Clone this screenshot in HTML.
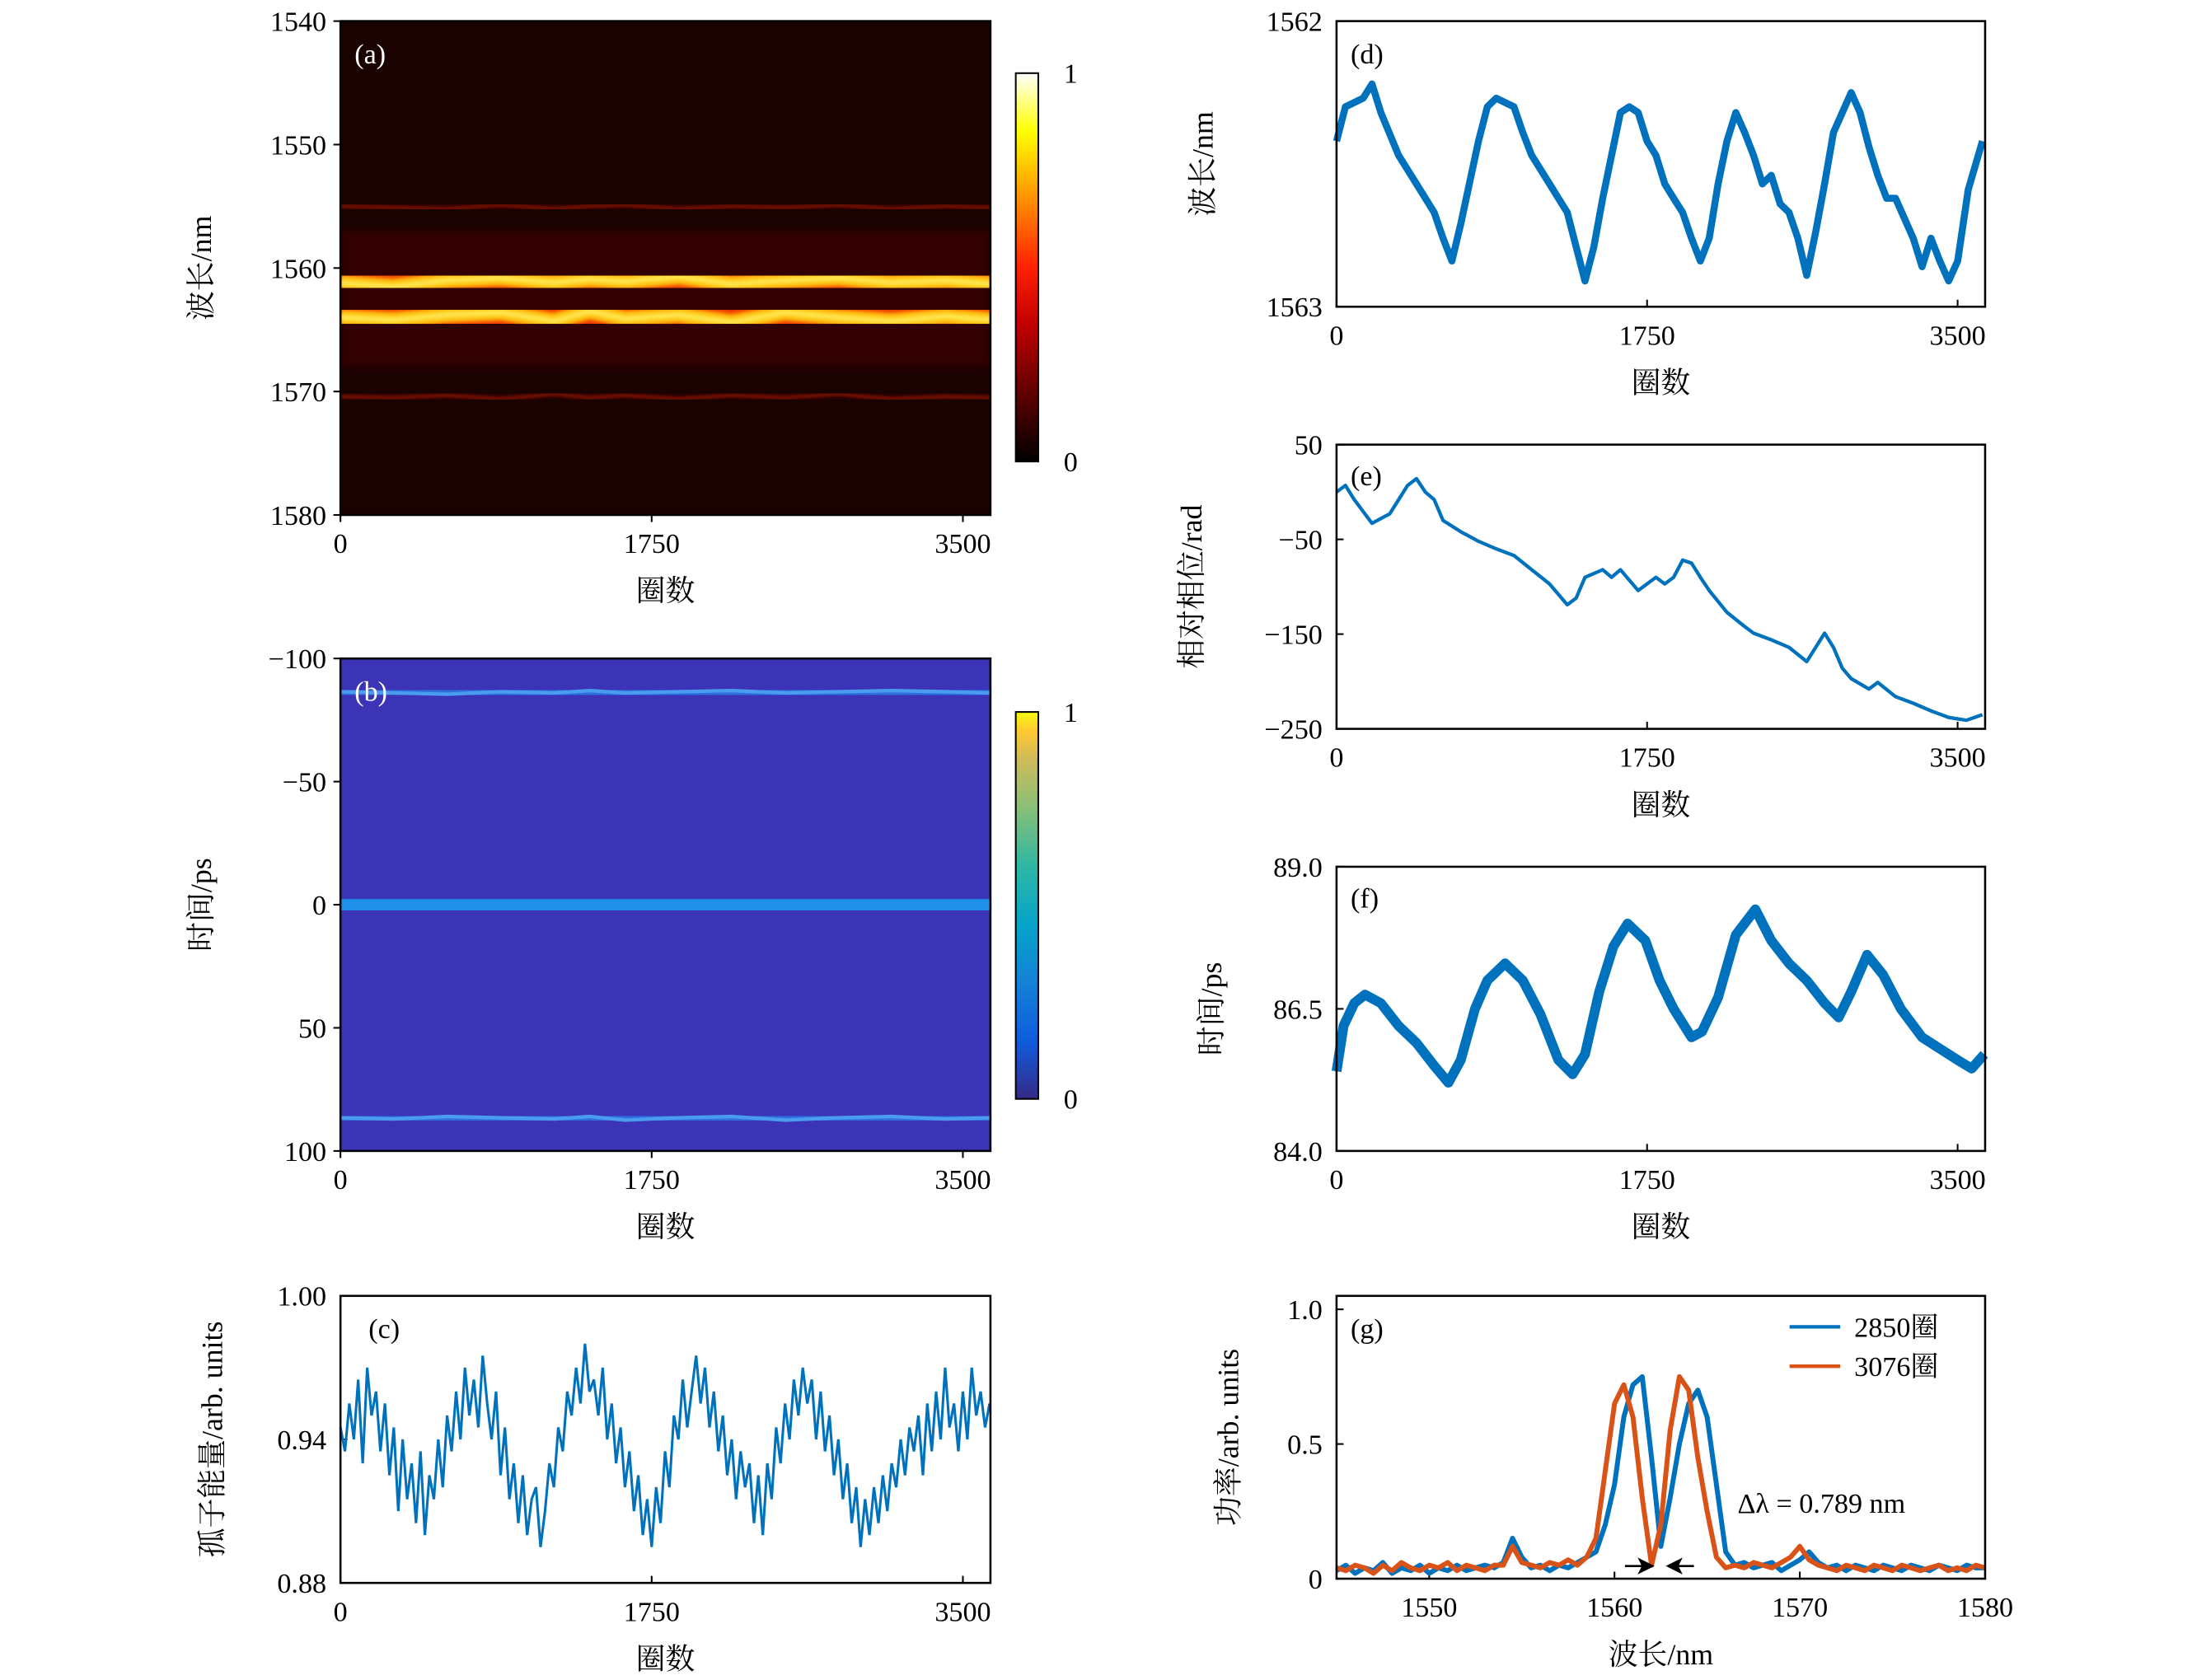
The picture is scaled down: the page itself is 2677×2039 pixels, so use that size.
<!DOCTYPE html>
<html><head><meta charset="utf-8"><style>
html,body{margin:0;padding:0;background:#fff;}
svg{display:block;}
text{font-family:"Liberation Serif","Noto Serif CJK SC","Noto Sans CJK SC",serif;}
</style></head><body>
<svg id="fig" xmlns="http://www.w3.org/2000/svg" width="2677" height="2039" viewBox="0 0 1568 1194" preserveAspectRatio="none">
<defs>
<linearGradient id="hotGrad" x1="0" y1="1" x2="0" y2="0">
<stop offset="0" stop-color="#000"/><stop offset="0.35" stop-color="#c00000"/><stop offset="0.5" stop-color="#ff2000"/><stop offset="0.7" stop-color="#ffa000"/><stop offset="0.85" stop-color="#ffff00"/><stop offset="1" stop-color="#ffffff"/>
</linearGradient>
<linearGradient id="parulaGrad" x1="0" y1="1" x2="0" y2="0">
<stop offset="0" stop-color="#352a87"/><stop offset="0.15" stop-color="#0f5cdd"/><stop offset="0.3" stop-color="#1481d6"/><stop offset="0.45" stop-color="#06a4ca"/><stop offset="0.6" stop-color="#2eb7a4"/><stop offset="0.75" stop-color="#87bf77"/><stop offset="0.88" stop-color="#d1bb59"/><stop offset="0.95" stop-color="#fec832"/><stop offset="1" stop-color="#f9fb0e"/>
</linearGradient>
<filter id="blur3"><feGaussianBlur stdDeviation="3"/></filter>
<filter id="blur1"><feGaussianBlur stdDeviation="1.2"/></filter>
<clipPath id="clipA"><rect x="242" y="15" width="462" height="351"/></clipPath>
<clipPath id="clipB"><rect x="242" y="468" width="462" height="350"/></clipPath>
</defs>
</svg>
<script>
// ===== data =====
const roundsA = [0,300,600,900,1200,1400,1600,1900,2200,2500,2800,3100,3400,3660];
const bandHigh = [1561.2,1561.5,1561.0,1560.8,1561.2,1560.9,1561.1,1560.7,1561.3,1561.0,1560.8,1561.2,1561.0,1561.3];
const bandLow = [1564.0,1564.2,1563.8,1563.6,1564.3,1563.5,1564.1,1563.8,1564.4,1563.6,1564.0,1564.3,1563.9,1564.2];
const bandSide1 = [1555.0,1555.1,1555.2,1554.9,1555.2,1555.0,1554.9,1555.2,1555.0,1555.1,1554.9,1555.2,1555.0,1555.1];
const bandSide2 = [1570.4,1570.5,1570.3,1570.6,1570.2,1570.5,1570.3,1570.6,1570.3,1570.5,1570.2,1570.6,1570.4,1570.5];
const pulseTop = [-86.5,-86,-85.5,-86.5,-86,-87,-86,-86.5,-87,-86,-86.5,-87,-86.5,-86];
const pulseBottom = [86.5,87,86,86.5,87,86,87.5,86.5,86,87.5,86.5,86,87,86.5];

const cStep = 25;
const energy = [.945,.935,.955,.94,.965,.93,.97,.95,.96,.935,.955,
.925,.945,.91,.94,.915,.93,.905,.935,.9,.925,
.915,.94,.92,.95,.935,.96,.94,.97,.95,.965,.945,.975,
.955,.94,.96,.925,.945,.915,.93,.905,.925,.9,.915,.92,
.895,.91,.93,.92,.945,.935,.96,.95,.97,.955,.98,.96,
.965,.95,.97,.94,.955,.93,.945,.92,.935,.91,.925,.9,
.915,.895,.92,.905,.935,.92,.95,.94,.965,.945,.96,.975,
.955,.97,.945,.96,.935,.95,.925,.94,.915,.935,.92,.93,
.905,.925,.9,.93,.915,.945,.93,.955,.94,.965,.95,.97,
.955,.965,.94,.96,.935,.95,.925,.94,.915,.93,.905,.92,
.895,.915,.9,.92,.905,.925,.91,.93,.92,.94,.925,.945,
.935,.95,.925,.955,.935,.96,.94,.97,.945,.955,.935,.96,
.94,.97,.95,.96,.945,.955];

const roundsD = [0,50,150,200,250,350,450,550,600,650,700,800,850,900,1000,1050,1100,1200,1250,1300,1350,1400,1450,1500,1550,1600,1650,1700,1750,1800,1850,1900,1950,2000,2050,2100,2150,2200,2250,2300,2350,2400,2450,2500,2550,2600,2650,2700,2750,2800,2850,2900,2950,3000,3050,3100,3150,3200,3250,3300,3350,3400,3450,3500,3560,3640];
const wavelengthD = [1562.42,1562.30,1562.27,1562.22,1562.32,1562.47,1562.57,1562.67,1562.76,1562.84,1562.71,1562.42,1562.30,1562.27,1562.30,1562.39,1562.47,1562.57,1562.62,1562.67,1562.79,1562.91,1562.79,1562.62,1562.47,1562.32,1562.30,1562.32,1562.42,1562.47,1562.57,1562.62,1562.67,1562.76,1562.84,1562.76,1562.57,1562.42,1562.32,1562.39,1562.47,1562.57,1562.54,1562.64,1562.67,1562.76,1562.89,1562.74,1562.57,1562.39,1562.32,1562.25,1562.32,1562.44,1562.54,1562.62,1562.62,1562.69,1562.76,1562.86,1562.76,1562.84,1562.91,1562.84,1562.59,1562.42];

const roundsE = [0,50,100,200,300,400,450,500,550,600,700,800,900,1000,1100,1200,1300,1350,1400,1500,1550,1600,1700,1800,1850,1900,1950,2000,2050,2100,2200,2300,2350,2450,2550,2650,2750,2800,2850,2900,3000,3050,3150,3250,3350,3450,3550,3640];
const phaseE = [0,7,-8,-33,-23,7,14,0,-8,-30,-42,-52,-60,-67,-82,-97,-119,-112,-90,-82,-90,-82,-104,-90,-97,-90,-72,-75,-90,-104,-127,-142,-149,-156,-164,-179,-149,-164,-186,-197,-208,-201,-216,-223,-231,-238,-241,-235];

const roundsF = [0,40,100,160,250,350,450,550,630,700,780,850,950,1050,1150,1250,1330,1400,1480,1560,1640,1740,1820,1900,2000,2060,2150,2250,2360,2450,2550,2650,2750,2830,2900,2990,3080,3180,3300,3400,3500,3580,3650];
const timeF = [85.4,86.2,86.6,86.75,86.6,86.2,85.9,85.5,85.2,85.6,86.5,87.0,87.3,87.0,86.4,85.6,85.35,85.7,86.8,87.6,88.0,87.7,87.0,86.5,86.0,86.1,86.7,87.8,88.25,87.7,87.3,87.0,86.6,86.35,86.8,87.45,87.1,86.5,86.0,85.8,85.6,85.45,85.7];

const gStart = 1545, gStep = 0.5;
const spec2850 = [.03,.05,.02,.04,.03,.06,.02,.04,.03,.05,.02,.04,.03,.05,.03,.04,.05,.04,
.06,.15,.08,.04,.05,.03,.05,.04,.06,.08,
.1,.2,.35,.6,.72,.75,.45,.12,.3,.5,
.65,.7,.6,.35,.1,.05,.06,.04,.05,.06,
.03,.05,.07,.1,.06,.04,.05,.03,.05,.04,
.03,.05,.04,.03,.05,.04,.03,.05,.04,.03,
.05,.04,.04];
const spec3076 = [.04,.03,.05,.04,.02,.05,.03,.06,.04,.03,.05,.04,.06,.03,.05,.04,.03,.05,
.05,.12,.06,.05,.04,.06,.05,.07,.05,.08,
.15,.4,.65,.72,.6,.3,.05,.2,.55,.75,
.7,.45,.25,.08,.04,.05,.04,.06,.05,.04,
.06,.08,.12,.07,.05,.04,.03,.05,.04,.03,
.05,.04,.03,.05,.04,.03,.04,.05,.03,.04,
.03,.05,.04];

const roundTicks = [0,1750,3500];
const roundTickLabels = ['0','1750','3500'];
const aTicks = [1540,1550,1560,1570,1580];
const bTicks = [-100,-50,0,50,100];
const bTickLabels = ['\u2212100','\u221250','0','50','100'];
const cTicks = [1.00,0.94,0.88];
const cTickLabels = ['1.00','0.94','0.88'];
const dTicks = [1562,1563];
const eTicks = [50,-50,-150,-250];
const eTickLabels = ['50','\u221250','\u2212150','\u2212250'];
const fTicks = [89.0,86.5,84.0];
const fTickLabels = ['89.0','86.5','84.0'];
const gYTicks = [1.0,0.5,0];
const gYTickLabels = ['1.0','0.5','0'];
const gXTicks = [1550,1560,1570,1580];

// ===== helpers =====
const NS='http://www.w3.org/2000/svg';
const svg=document.getElementById('fig');
function mk(parent,tag,attrs,text){const e=document.createElementNS(NS,tag);for(const k in attrs)e.setAttribute(k,attrs[k]);if(text!=null)e.textContent=text;parent.appendChild(e);return e;}
function scale(d0,d1,p0,p1){return v=>p0+(v-d0)/(d1-d0)*(p1-p0);}
const RMAX=3655;

function frame(box,name,opts){
  const g=mk(svg,'g',{});
  
  
  const sx=scale(opts.xd[0],opts.xd[1],box.x,box.x+box.w);
  const sy=scale(opts.yd[0],opts.yd[1],box.y,box.y+box.h);
  const dir=opts.out?1:-1;
  opts.xt.forEach((v,i)=>{
    const x=sx(v);
    const tk=mk(g,'line',{x1:x,x2:x,y1:box.y+box.h,y2:box.y+box.h+dir*5,stroke:'#000','stroke-width':1.2});
    
    
    const t=mk(g,'text',{x:x,y:box.y+box.h+27,'text-anchor':'middle','font-size':20,fill:'#000'},opts.xl[i]);
    
    
  });
  opts.yt.forEach((v,i)=>{
    const y=sy(v);
    const tk=mk(g,'line',{x1:box.x,x2:box.x-dir*5,y1:y,y2:y,stroke:'#000','stroke-width':1.2});
    
    
    const t=mk(g,'text',{x:box.x-10,y:y+7,'text-anchor':'end','font-size':20,fill:'#000'},opts.yl[i]);
    
    
  });
  const xt=mk(g,'text',{x:box.x+box.w/2,y:box.y+box.h+61,'text-anchor':'middle','font-size':21,fill:'#000'},opts.xtitle);
  
  
  const yx=opts.ytx, yy=box.y+box.h/2;
  const yt=mk(g,'text',{x:yx,y:yy,'text-anchor':'middle','font-size':21,fill:'#000',transform:`rotate(-90 ${yx} ${yy})`},opts.ytitle);
  
  
  return {g,sx,sy};
}
function border(box,name){
  const r=mk(svg,'rect',{x:box.x,y:box.y,width:box.w,height:box.h,fill:'none',stroke:'#000','stroke-width':1.5});
  
  
}
function plabel(x,y,txt,col,name){
  const t=mk(svg,'text',{x:x,y:y,'font-size':20,fill:col,style:'fill:'+col},txt);
  
  
}
function pathFrom(xs,ys,sx,sy){return xs.map((v,i)=>(i?'L':'M')+sx(v).toFixed(1)+' '+sy(ys[i]).toFixed(1)).join(' ');}

// ===== (a) spectral heatmap =====
const boxA={x:242,y:15,w:462,h:351};
const A=frame(boxA,'panel-a-axes',{xd:[0,RMAX],yd:[1540,1580],xt:roundTicks,xl:roundTickLabels,yt:aTicks,yl:aTicks.map(String),xtitle:'圈数',ytitle:'波长/nm',ytx:150,out:true});
const gA=mk(svg,'g',{'clip-path':'url(#clipA)'});


const bgA=mk(gA,'rect',{x:boxA.x,y:boxA.y,width:boxA.w,height:boxA.h,fill:'#1a0201'});


const glowA=mk(gA,'rect',{x:boxA.x,y:A.sy(1557),width:boxA.w,height:A.sy(1568)-A.sy(1557),fill:'#330504',filter:'url(#blur3)'});


[[bandSide1,'#800e06',3,'side-band-1555'],[bandSide2,'#800e06',3,'side-band-1570']].forEach(b=>{
  const p=mk(gA,'path',{d:pathFrom(roundsA,b[0],A.sx,A.sy),stroke:b[1],'stroke-width':b[2],fill:'none',filter:'url(#blur1)'});
  
  
});
[bandHigh,bandLow].forEach((arr,k)=>{
  const d=pathFrom(roundsA,arr,A.sx,A.sy);
  const p1=mk(gA,'path',{d:d,stroke:'#b00c00','stroke-width':30,fill:'none',filter:'url(#blur3)',opacity:0.95});
  
  
  const p2=mk(gA,'path',{d:d,stroke:'#f04000','stroke-width':19,fill:'none',filter:'url(#blur1)'});
  
  
  const p3=mk(gA,'path',{d:d,stroke:'#ffc010','stroke-width':11,fill:'none',filter:'url(#blur1)'});
  
  
  const p4=mk(gA,'path',{d:d,stroke:'#fff060','stroke-width':4,fill:'none',filter:'url(#blur1)',opacity:0.8});
  
  
});
border(boxA,'panel-a-frame');
plabel(252,45,'(a)','#fff','panel-a-label');
const cbA=mk(svg,'rect',{x:722,y:52,width:16,height:276,fill:'url(#hotGrad)',stroke:'#000','stroke-width':1.2});


plabel(756,59,'1','#000','colorbar-a-max');
plabel(756,335,'0','#000','colorbar-a-min');

// ===== (b) time heatmap =====
const boxB={x:242,y:468,w:462,h:350};
const B=frame(boxB,'panel-b-axes',{xd:[0,RMAX],yd:[-100,100],xt:roundTicks,xl:roundTickLabels,yt:bTicks,yl:bTickLabels,xtitle:'圈数',ytitle:'时间/ps',ytx:150,out:true});
const gB=mk(svg,'g',{'clip-path':'url(#clipB)'});


const bgB=mk(gB,'rect',{x:boxB.x,y:boxB.y,width:boxB.w,height:boxB.h,fill:'#3b34b6'});


[[pulseTop,'side-pulse-top'],[pulseBottom,'side-pulse-bottom']].forEach(b=>{
  const d=pathFrom(roundsA,b[0],B.sx,B.sy);
  const p=mk(gB,'path',{d:d,stroke:'#2f6fe0','stroke-width':9,fill:'none',filter:'url(#blur1)'});
  
  
  const q=mk(gB,'path',{d:d,stroke:'#4a9cf0','stroke-width':2.5,fill:'none'});
  
  
});
const cen=mk(gB,'rect',{x:boxB.x,y:B.sy(-2.3),width:boxB.w,height:B.sy(2.3)-B.sy(-2.3),fill:'#1f90e8'});


border(boxB,'panel-b-frame');
plabel(252,498,'(b)','#fff','panel-b-label');
const cbB=mk(svg,'rect',{x:722,y:506,width:16,height:275,fill:'url(#parulaGrad)',stroke:'#000','stroke-width':1.2});


plabel(756,513,'1','#000','colorbar-b-max');
plabel(756,788,'0','#000','colorbar-b-min');

// ===== (c) soliton energy =====
const boxC={x:242,y:921,w:462,h:204};
const C=frame(boxC,'panel-c-axes',{xd:[0,RMAX],yd:[1.00,0.88],xt:roundTicks,xl:roundTickLabels,yt:cTicks,yl:cTickLabels,xtitle:'圈数',ytitle:'孤子能量/arb. units',ytx:158});
const cRounds=energy.map((v,i)=>i*cStep);
const lc=mk(svg,'path',{d:pathFrom(cRounds,energy,C.sx,C.sy),stroke:'#0072bd','stroke-width':1.8,fill:'none'});


border(boxC,'panel-c-frame');
plabel(262,951,'(c)','#000','panel-c-label');

// ===== (d) =====
const boxD={x:950,y:15,w:461,h:203};
const D=frame(boxD,'panel-d-axes',{xd:[0,RMAX],yd:[1562,1563],xt:roundTicks,xl:roundTickLabels,yt:dTicks,yl:dTicks.map(String),xtitle:'圈数',ytitle:'波长/nm',ytx:862});
const ld=mk(svg,'path',{d:pathFrom(roundsD,wavelengthD,D.sx,D.sy),stroke:'#0072bd','stroke-width':5,fill:'none','stroke-linejoin':'round'});


border(boxD,'panel-d-frame');
plabel(960,45,'(d)','#000','panel-d-label');

// ===== (e) =====
const boxE={x:950,y:316,w:461,h:202};
const E=frame(boxE,'panel-e-axes',{xd:[0,RMAX],yd:[50,-250],xt:roundTicks,xl:roundTickLabels,yt:eTicks,yl:eTickLabels,xtitle:'圈数',ytitle:'相对相位/rad',ytx:854});
const le=mk(svg,'path',{d:pathFrom(roundsE,phaseE,E.sx,E.sy),stroke:'#0072bd','stroke-width':2.5,fill:'none','stroke-linejoin':'round'});


border(boxE,'panel-e-frame');
plabel(960,345,'(e)','#000','panel-e-label');

// ===== (f) =====
const boxF={x:950,y:616,w:461,h:202};
const F=frame(boxF,'panel-f-axes',{xd:[0,RMAX],yd:[89,84],xt:roundTicks,xl:roundTickLabels,yt:fTicks,yl:fTickLabels,xtitle:'圈数',ytitle:'时间/ps',ytx:868});
const lf=mk(svg,'path',{d:pathFrom(roundsF,timeF,F.sx,F.sy),stroke:'#0072bd','stroke-width':7,fill:'none','stroke-linejoin':'round'});


border(boxF,'panel-f-frame');
plabel(960,645,'(f)','#000','panel-f-label');

// ===== (g) =====
const boxG={x:950,y:921,w:461,h:201};
const G=frame(boxG,'panel-g-axes',{xd:[1545,1580],yd:[1.05,0],xt:gXTicks,xl:gXTicks.map(String),yt:gYTicks,yl:gYTickLabels,xtitle:'波长/nm',ytitle:'功率/arb. units',ytx:880});
const gWl=spec2850.map((v,i)=>gStart+i*gStep);
const lg1=mk(svg,'path',{d:pathFrom(gWl,spec2850,G.sx,G.sy),stroke:'#0072bd','stroke-width':3.5,fill:'none','stroke-linejoin':'round'});


const lg2=mk(svg,'path',{d:pathFrom(gWl,spec3076,G.sx,G.sy),stroke:'#d95319','stroke-width':3.5,fill:'none','stroke-linejoin':'round'});


border(boxG,'panel-g-frame');
plabel(960,951,'(g)','#000','panel-g-label');
</script>
<svg style="position:absolute;left:0;top:0" width="2677" height="2039" viewBox="0 0 1568 1194" preserveAspectRatio="none">
<g>
<line x1="1272" y1="943" x2="1308" y2="943" stroke="#0072bd" stroke-width="2.5"/>
<text x="1318" y="950" font-size="20" fill="#000">2850圈</text>
<line x1="1272" y1="971" x2="1308" y2="971" stroke="#d95319" stroke-width="2.5"/>
<text x="1318" y="978" font-size="20" fill="#000">3076圈</text>
</g>
<text x="1235" y="1075" font-size="20" fill="#000">Δλ = 0.789 nm</text>
<g>
<line x1="1155" y1="1113" x2="1170" y2="1113" stroke="#000" stroke-width="1.5"/>
<polygon points="1176,1113 1164,1107 1167,1113 1164,1119" fill="#000"/>
<line x1="1188" y1="1113" x2="1204" y2="1113" stroke="#000" stroke-width="1.5"/>
<polygon points="1184,1113 1196,1107 1193,1113 1196,1119" fill="#000"/>
</g>
</svg>
</body></html>
